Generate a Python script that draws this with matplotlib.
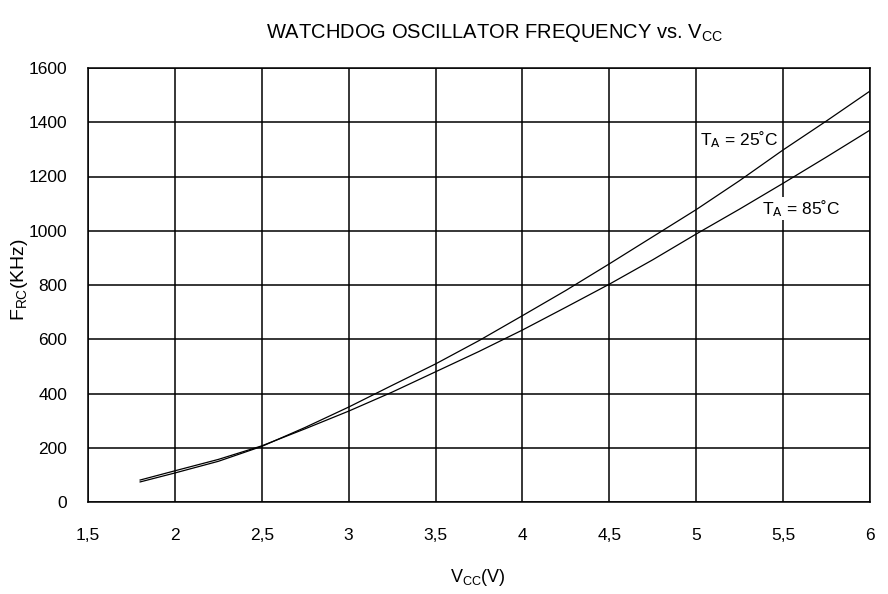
import matplotlib
matplotlib.use("Agg")
import matplotlib.pyplot as plt

plt.rcParams['font.family'] = ['Liberation Sans', 'DejaVu Sans']
plt.rcParams['mathtext.fontset'] = 'custom'
plt.rcParams['mathtext.rm'] = 'Liberation Sans'
plt.rcParams['mathtext.it'] = 'Liberation Sans'
plt.rcParams['mathtext.default'] = 'rm'

vcc = [1.8, 2.0, 2.25, 2.5, 2.75, 3.0, 3.25, 3.5, 3.75, 4.0, 4.25, 4.5, 4.75, 5.0, 5.25, 5.5, 5.75, 6.0]
f_25 = [74, 107, 150, 205, 275, 350, 430, 509, 595, 687, 780, 878, 978, 1078, 1185, 1298, 1405, 1515]
f_85 = [81, 115, 157, 207, 270, 335, 405, 480, 555, 634, 718, 803, 893, 988, 1080, 1175, 1272, 1371]

xticks = [1.5, 2, 2.5, 3, 3.5, 4, 4.5, 5, 5.5, 6]
xticklabels = ["1,5", "2", "2,5", "3", "3,5", "4", "4,5", "5", "5,5", "6"]
yticks = [0, 200, 400, 600, 800, 1000, 1200, 1400, 1600]

fig = plt.figure(figsize=(8.88, 5.94), dpi=100)
ax = fig.add_axes([88/888, 92/594, (870-88)/888, (502-68)/594])

ax.plot(vcc, f_25, color='black', lw=0.9, zorder=2)
ax.plot(vcc, f_85, color='black', lw=0.9, zorder=2)

ax.set_xlim(1.5, 6)
ax.set_ylim(0, 1600)
ax.set_xticks(xticks)
ax.set_xticklabels(xticklabels)
ax.set_yticks(yticks)
ax.grid(True, color='black', lw=1.1)
ax.set_axisbelow(True)
ax.tick_params(length=0, labelsize=12.5)
ax.tick_params(axis='x', pad=19)
ax.tick_params(axis='y', pad=15)
for s in ax.spines.values():
    s.set_linewidth(1.1)
    s.set_color('black')

bbox = dict(facecolor='white', edgecolor='none', pad=1.0)
ax.text(5.02, 1335, r"T$_{\mathsf{A}}$ = 25˚C", fontsize=12.5, va='center', ha='left', bbox=bbox, zorder=3)
ax.text(5.38, 1082, r"T$_{\mathsf{A}}$ = 85˚C", fontsize=12.5, va='center', ha='left', bbox=bbox, zorder=3)

fig.text(494/888, 1 - 33/594, r"WATCHDOG OSCILLATOR FREQUENCY vs. V$_{\mathrm{CC}}$",
         ha='center', va='center', fontsize=14.5)
fig.text(478/888, 1 - 578/594, r"V$_{\mathrm{CC}}$(V)", ha='center', va='center', fontsize=13)
fig.text(19/888, 1 - 280/594, r"F$_{\mathrm{RC}}$(KHz)", ha='center', va='center', fontsize=14, rotation=90)

fig.savefig("out.png", dpi=100)
